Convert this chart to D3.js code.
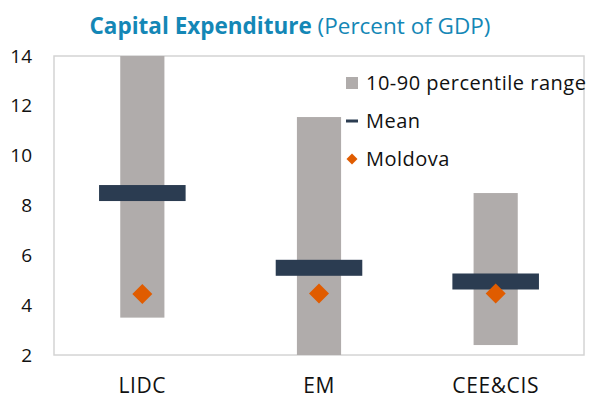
<!DOCTYPE html>
<html>
<head>
<meta charset="utf-8">
<script src="https://cdn.jsdelivr.net/npm/d3@7"></script>
<style>
  body { margin: 0; background: #fff; }
  svg text { font-family: "Open Sans", "Noto Sans", sans-serif; }
</style>
</head>
<body>
<div id="chart"></div>
<script>
// data
var categories = ["LIDC", "EM", "CEE&CIS"];
var p10 = [3.5, 1.9, 2.4];
var p90 = [14.5, 11.55, 8.5];
var means = [8.5, 5.5, 4.95];
var moldova = [4.45, 4.47, 4.47];
var yTicks = [2, 4, 6, 8, 10, 12, 14];
var legendLabels = ["10-90 percentile range", "Mean", "Moldova"];

var W = 589, H = 400;
var margin = {top: 56, right: 5, bottom: 45, left: 54};
var width = W - margin.left - margin.right,
    height = H - margin.top - margin.bottom;

var svg = d3.select("#chart").append("svg").attr("width", W).attr("height", H);

// title
var title = svg.append("text")
  .attr("x", 290).attr("y", 34)
  .attr("text-anchor", "middle")
  .style("font-size", "22.5px")
  .style("fill", "#1487b6");
title.append("tspan").style("font-weight", "bold").text("Capital Expenditure");
title.append("tspan").text(" (Percent of GDP)");

var x = d3.scaleBand().domain(categories).range([0, width]);
var y = d3.scaleLinear().domain([2, 14]).range([height, 0]);

svg.append("defs").append("clipPath").attr("id", "clip")
  .append("rect").attr("width", width).attr("height", height);

var g = svg.append("g").attr("transform", "translate(" + margin.left + "," + margin.top + ")");

// plot frame
g.append("rect")
  .attr("width", width).attr("height", height)
  .style("fill", "none").style("stroke", "#d4d4d4").style("stroke-width", 1.5);

var plot = g.append("g").attr("clip-path", "url(#clip)");

var barW = x.bandwidth() * 0.25,
    meanW = x.bandwidth() * 0.49,
    meanH = 16;

plot.selectAll(".range").data(categories).enter().append("rect")
  .attr("class", "range")
  .attr("x", function(d) { return x(d) + x.bandwidth() / 2 - barW / 2; })
  .attr("width", barW)
  .attr("y", function(d, i) { return y(p90[i]); })
  .attr("height", function(d, i) { return y(p10[i]) - y(p90[i]); })
  .style("fill", "#b0acab");

plot.selectAll(".mean").data(categories).enter().append("rect")
  .attr("class", "mean")
  .attr("x", function(d) { return x(d) + x.bandwidth() / 2 - meanW / 2; })
  .attr("width", meanW)
  .attr("y", function(d, i) { return y(means[i]) - meanH / 2; })
  .attr("height", meanH)
  .style("fill", "#2b3c51");

var diamond = d3.symbol().type(d3.symbolSquare).size(200);
plot.selectAll(".mold").data(categories).enter().append("path")
  .attr("class", "mold")
  .attr("d", diamond)
  .attr("transform", function(d, i) {
    return "translate(" + (x(d) + x.bandwidth() / 2) + "," + y(moldova[i]) + ") rotate(45)";
  })
  .style("fill", "#e05c00");

// axes
var yAxis = d3.axisLeft(y).tickValues(yTicks).tickSize(0).tickPadding(22);
var ya = g.append("g").call(yAxis);
ya.select(".domain").remove();
ya.selectAll("text").style("font-size", "19px").style("fill", "#111")
  .attr("font-family", null);

var xAxis = d3.axisBottom(x).tickSize(0).tickPadding(23);
var xa = g.append("g").attr("transform", "translate(0," + height + ")").call(xAxis);
xa.select(".domain").remove();
xa.selectAll("text").style("font-size", "21px").style("fill", "#111")
  .style("letter-spacing", "0.6px")
  .attr("font-family", null);

// legend
var legend = svg.append("g").attr("transform", "translate(346,0)");
var rows = [83, 121, 159];
legend.append("rect").attr("x", 0).attr("y", rows[0] - 6).attr("width", 12).attr("height", 12)
  .style("fill", "#b0acab");
legend.append("rect").attr("x", 0).attr("y", rows[1] - 1.5).attr("width", 12).attr("height", 3)
  .style("fill", "#2b3c51");
legend.append("path").attr("d", d3.symbol().type(d3.symbolSquare).size(60))
  .attr("transform", "translate(6," + rows[2] + ") rotate(45)")
  .style("fill", "#e05c00");
legend.selectAll(".lt").data(legendLabels).enter().append("text")
  .attr("class", "lt")
  .attr("x", 20)
  .attr("y", function(d, i) { return rows[i]; })
  .attr("dy", "0.35em")
  .style("font-size", "20px")
  .style("letter-spacing", "0.5px")
  .style("fill", "#111")
  .text(function(d) { return d; });
</script>
</body>
</html>
